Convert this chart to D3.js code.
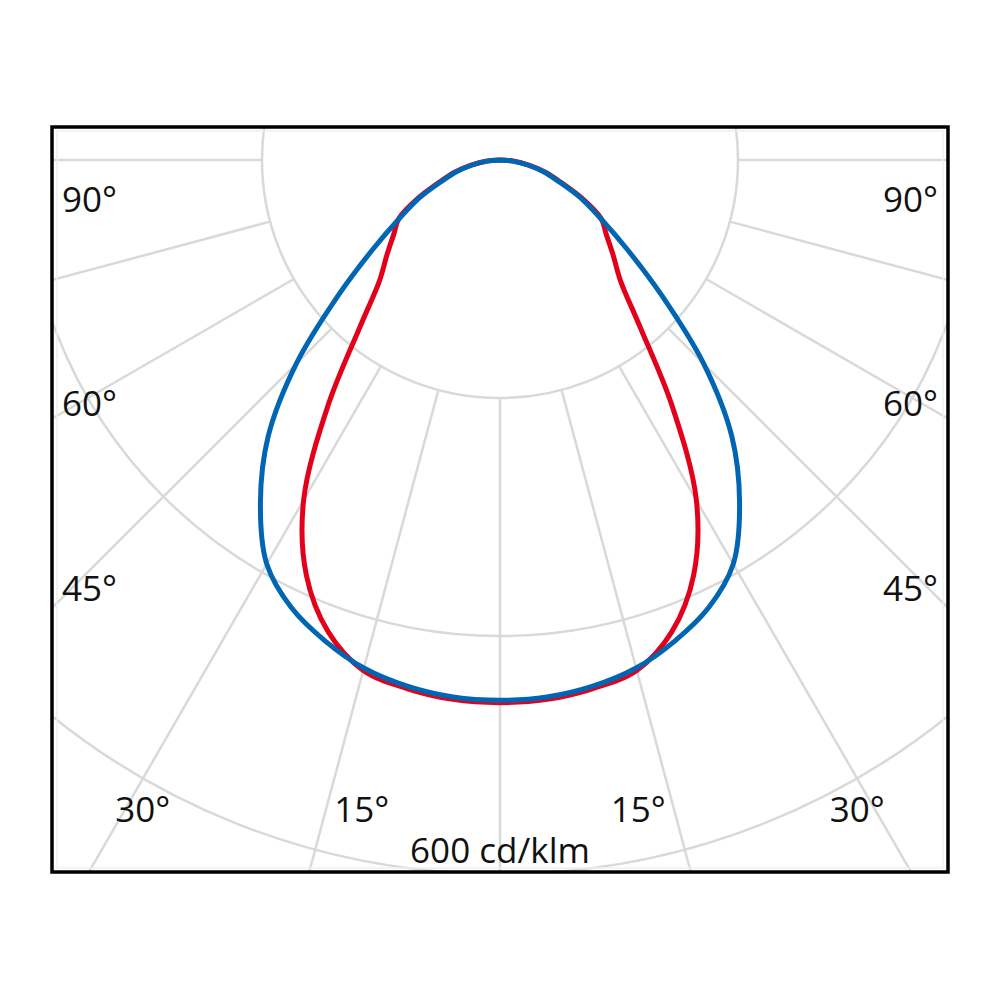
<!DOCTYPE html>
<html>
<head>
<meta charset="utf-8">
<script src="https://cdn.jsdelivr.net/npm/d3@7"></script>
<style>
  html, body { margin: 0; padding: 0; background: #fff; }
  text { font-family: "Open Sans", "DejaVu Sans", sans-serif; fill: #111; }
</style>
</head>
<body>
<div id="chart"></div>
<script>
// polar angles (degrees from nadir) and intensities in cd/klm
var angles = [0, 5, 10, 15, 20, 25, 30, 35, 40, 45, 50, 55, 60, 65, 70, 75, 80, 85, 90];
var redValues = [456, 455, 451, 444, 422, 385, 330, 252, 183, 143, 124, 109, 98, 76, 54, 39, 24, 12, 0];
var blueValues = [454, 453, 449, 442, 430, 415, 392, 351, 303, 242, 178, 130, 97, 74, 52, 38, 23, 11, 0];

var ringValues = [200, 400, 600];
var spokeAngles = [0, 15, 30, 45, 60, 75, 90];
var sideLabels = [90, 60, 45];
var bottomLabels = [30, 15];
var unitLabel = "600 cd/klm";

var svgWidth = 1000;
var svgHeight = 1000;
var frame = {left: 52, top: 127, right: 948, bottom: 872};
var cx = 500, cy = 160;

var svg = d3.select("#chart")
	.append("svg")
	.attr("width", svgWidth)
	.attr("height", svgHeight);

var r = d3.scaleLinear()
	.domain([0, 600])
	.range([0, 714]);

var rad = function(deg) { return deg * Math.PI / 180; };

svg.append("clipPath")
	.attr("id", "frameClip")
	.append("rect")
	.attr("x", frame.left)
	.attr("y", frame.top)
	.attr("width", frame.right - frame.left)
	.attr("height", frame.bottom - frame.top);

var plot = svg.append("g")
	.attr("clip-path", "url(#frameClip)");

var polar = plot.append("g")
	.attr("transform", "translate(" + cx + "," + cy + ")");

// faint inner border
plot.append("rect")
	.attr("x", frame.left + 5)
	.attr("y", frame.top + 4)
	.attr("width", frame.right - frame.left - 10)
	.attr("height", frame.bottom - frame.top - 8)
	.attr("fill", "none")
	.attr("stroke", "#f0f0f0")
	.attr("stroke-width", 1.5);

// rings
polar.selectAll("circle.ring")
	.data(ringValues)
	.enter().append("circle")
	.attr("class", "ring")
	.attr("r", function(d) { return r(d); })
	.attr("fill", "none")
	.attr("stroke", "#d9d9d9")
	.attr("stroke-width", 2.5);

// spokes, both sides of nadir, starting at the first ring
var spokes = [];
spokeAngles.forEach(function(a) {
	spokes.push(a);
	if (a !== 0) spokes.push(-a);
});

polar.selectAll("line.spoke")
	.data(spokes)
	.enter().append("line")
	.attr("class", "spoke")
	.attr("x1", function(d) { return r(ringValues[0]) * Math.sin(rad(d)); })
	.attr("y1", function(d) { return r(ringValues[0]) * Math.cos(rad(d)); })
	.attr("x2", function(d) { return r(1000) * Math.sin(rad(d)); })
	.attr("y2", function(d) { return r(1000) * Math.cos(rad(d)); })
	.attr("stroke", "#d9d9d9")
	.attr("stroke-width", 2.5);

// curves: mirror each half-plane around nadir
function mirrored(values) {
	var pts = [];
	for (var i = angles.length - 1; i > 0; i--) {
		pts.push({a: -angles[i], v: values[i]});
	}
	for (var j = 0; j < angles.length; j++) {
		pts.push({a: angles[j], v: values[j]});
	}
	return pts;
}

var curve = d3.lineRadial()
	.angle(function(d) { return Math.PI - rad(d.a); })
	.radius(function(d) { return r(d.v); })
	.curve(d3.curveCatmullRom.alpha(0.5));

polar.append("path")
	.datum(mirrored(redValues))
	.attr("fill", "none")
	.attr("stroke", "#e2001a")
	.attr("stroke-width", 5)
	.attr("stroke-linejoin", "round")
	.attr("d", curve);

polar.append("path")
	.datum(mirrored(blueValues))
	.attr("fill", "none")
	.attr("stroke", "#0066b3")
	.attr("stroke-width", 5)
	.attr("stroke-linejoin", "round")
	.attr("d", curve);

// angle labels
var fontSize = 35;

sideLabels.forEach(function(a) {
	// baseline sits on the spoke where it meets the label's left edge
	var dxc = cx - (frame.left + 10);
	var yb = a === 90 ? cy + 52 : cy + dxc / Math.tan(rad(a)) + 3;
	[-1, 1].forEach(function(s) {
		svg.append("text")
			.attr("x", s < 0 ? frame.left + 10 : frame.right - 10)
			.attr("y", yb)
			.attr("text-anchor", s < 0 ? "start" : "end")
			.style("font-size", fontSize + "px")
			.text(a + "°");
	});
});

bottomLabels.forEach(function(a) {
	var yc = frame.bottom - 62;
	var off = (yc - cy) * Math.tan(rad(a * 1.12 - 4.8));
	[-1, 1].forEach(function(s) {
		svg.append("text")
			.attr("x", cx + s * off)
			.attr("y", yc)
			.attr("dy", "0.35em")
			.attr("text-anchor", "middle")
			.style("font-size", fontSize + "px")
			.text(a + "°");
	});
});

svg.append("text")
	.attr("x", cx)
	.attr("y", frame.bottom - 9)
	.attr("text-anchor", "middle")
	.style("font-size", fontSize + "px")
	.text(unitLabel);

// frame
svg.append("rect")
	.attr("x", frame.left)
	.attr("y", frame.top)
	.attr("width", frame.right - frame.left)
	.attr("height", frame.bottom - frame.top)
	.attr("fill", "none")
	.attr("stroke", "#000")
	.attr("stroke-width", 3.5);
</script>
</body>
</html>
